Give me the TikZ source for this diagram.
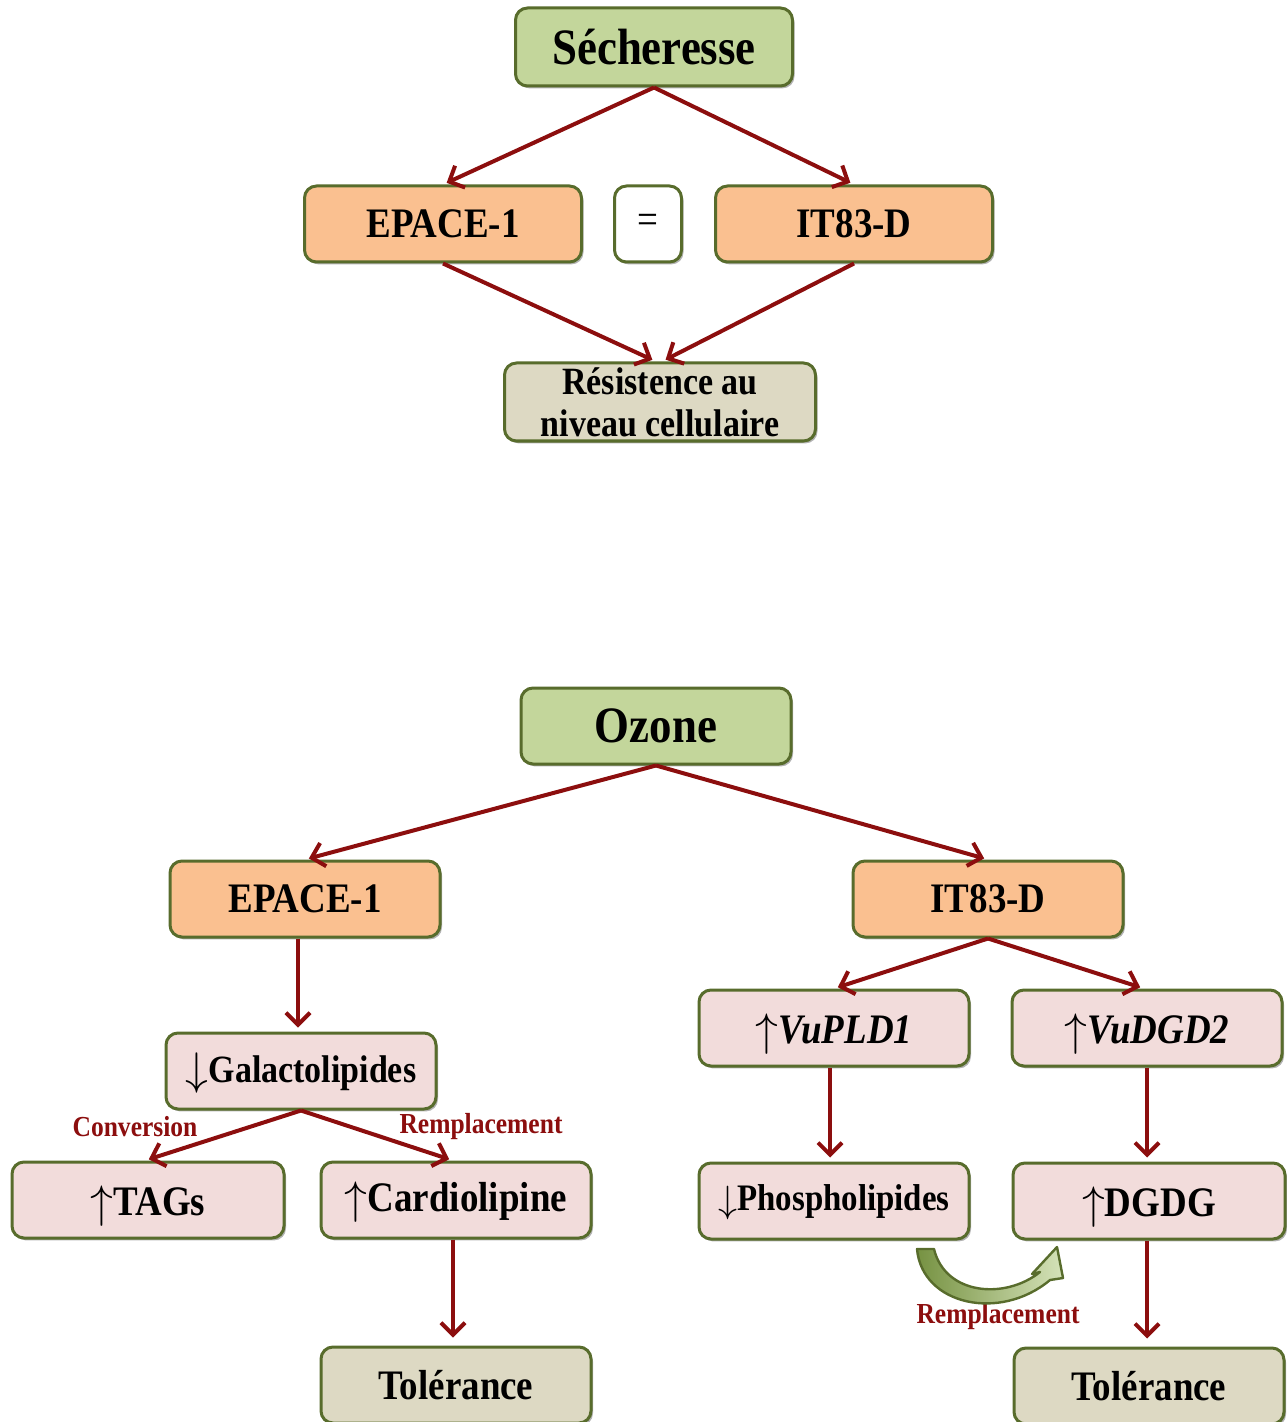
\documentclass[tikz,border=0pt]{standalone}
\usepackage{fontspec}
\setmainfont{Liberation Serif}[FakeStretch=0.88]
\usetikzlibrary{arrows.meta,shadows}
\definecolor{vertclair}{RGB}{195,214,155}
\definecolor{orange}{RGB}{250,192,144}
\definecolor{rose}{RGB}{242,220,219}
\definecolor{beige}{RGB}{221,217,195}
\definecolor{bord}{RGB}{88,108,44}
\definecolor{rouge}{RGB}{140,14,14}
\definecolor{vertfonce}{RGB}{118,146,66}
\newcommand{\flechehaut}{\raisebox{-1pt}[\height][0pt]{\scalebox{1.1}{$\uparrow$}}}
\newcommand{\flechebas}{\raisebox{-1pt}[\height][0pt]{\scalebox{1.1}{$\downarrow$}}}
\tikzset{
   boite/.style  = {rectangle, rounded corners=6pt, draw=bord, line width=1.5pt,
                    minimum width=135pt, minimum height=38pt, inner sep=0pt, align=center,
                    font=\bfseries\fontsize{21}{24}\selectfont,
                    drop shadow={shadow xshift=1pt, shadow yshift=-1.2pt, fill=black, opacity=0.3}},
   stress/.style = {boite, fill=vertclair, font=\bfseries\fontsize{25.5}{29}\selectfont},
   variete/.style = {boite, fill=orange},
   effet/.style  = {boite, fill=rose},
   issue/.style  = {boite, fill=beige},
   arrow/.style  = {-{Straight Barb[length=6pt,width=12pt]}, line width=2pt, draw=rouge, shorten >=2pt},
   etiquette/.style = {text=rouge, font=\bfseries\fontsize{14.5}{16}\selectfont},
}

\begin{document}
\begin{tikzpicture}[x=0.5pt,y=-0.5pt]
   \useasboundingbox (0,0) rectangle (1286,1422);

   % secheresse
   \node[stress, minimum width=138.5pt, minimum height=39pt] (secher) at (654,47) {Sécheresse};
   \node[variete, minimum width=138.5pt] (epaceA) at (443,224) {EPACE-1};
   \node[boite, fill=white, minimum width=33.5pt, font=\fontsize{21}{24}\selectfont] (egal) at (648,224) {=};
   \node[variete, minimum width=138.5pt] (itA) at (854,224) {IT83-D};
   \node[issue, minimum width=155.5pt, minimum height=39pt, font=\bfseries\fontsize{19.3}{21}\selectfont] (resist) at (660,402) {Résistence au\\niveau cellulaire};

   \draw[arrow] (secher.south) -- (epaceA.north);
   \draw[arrow] (secher.south) -- (itA.north);
   \draw[arrow] (epaceA.south) -- ([xshift=-2pt]resist.north);
   \draw[arrow] (itA.south)    -- ([xshift=1pt]resist.north);

   % ozone
   \node[stress] (ozone) at (656,726) {Ozone};
   \node[variete] (epaceB) at (305,899) {EPACE-1};
   \node[variete] (itB) at (988,899) {IT83-D};

   \node[effet, font=\bfseries\fontsize{19.3}{22}\selectfont] (galacto) at (301,1071) {\flechebas Galactolipides};
   \node[effet, minimum width=136pt] (tags) at (148,1200) {\flechehaut TAGs};
   \node[effet] (cardio) at (456,1200) {\flechehaut Cardiolipine};
   \node[issue] (tolA) at (456,1385) {Tolérance};

   \node[effet] (pld) at (834,1028) {\flechehaut\textit{VuPLD1}};
   \node[effet] (dgd) at (1147,1028) {\flechehaut\textit{VuDGD2}};
   \node[effet, font=\bfseries\fontsize{18.7}{21}\selectfont] (phospho) at (834,1201) {\flechebas Phospholipides};
   \node[effet, minimum width=136pt] (dgdg) at (1149,1201) {\flechehaut DGDG};
   \node[issue] (tolB) at (1149,1386) {Tolérance};

   \draw[arrow] (ozone.south) -- (epaceB.north);
   \draw[arrow] (ozone.south) -- (itB.north);
   \draw[arrow] ([xshift=-3.5pt]epaceB.south) -- ([xshift=-1.5pt]galacto.north);
   \draw[arrow] (galacto.south) -- ([xshift=-1.5pt]tags.north);
   \draw[arrow] (galacto.south) -- ([xshift=-1.5pt]cardio.north);
   \draw[arrow] ([xshift=-1.5pt]cardio.south) -- ([xshift=-1.5pt,yshift=2pt]tolA.north);
   \draw[arrow] (itB.south) -- (pld.north);
   \draw[arrow] (itB.south) -- ([xshift=-1.5pt]dgd.north);
   \draw[arrow] ([xshift=-2pt]pld.south) -- ([xshift=-2pt]phospho.north);
   \draw[arrow] (dgd.south) -- (dgd.south |- dgdg.north);
   \draw[arrow] ([xshift=-1pt]dgdg.south) -- ([xshift=-1pt,yshift=2pt]tolB.north);

   \node[etiquette] (conv) at (135,1127) {Conversion};
   \node[etiquette] (rempA) at (481,1127) {Remplacement};
   \node[etiquette] (rempB) at (998,1317) {Remplacement};

   % fleche verte courbe
   \draw[draw=bord, line width=1.2pt, left color=vertfonce, right color=vertclair!70!white, line join=round]
      (917,1249) .. controls (922,1305) and (1000,1322) .. (1050,1280)
      -- (1063,1278) -- (1057,1247) -- (1032,1274) -- (1040,1272)
      .. controls (1005,1300) and (945,1295) .. (934,1249) -- cycle;
\end{tikzpicture}
\end{document}
